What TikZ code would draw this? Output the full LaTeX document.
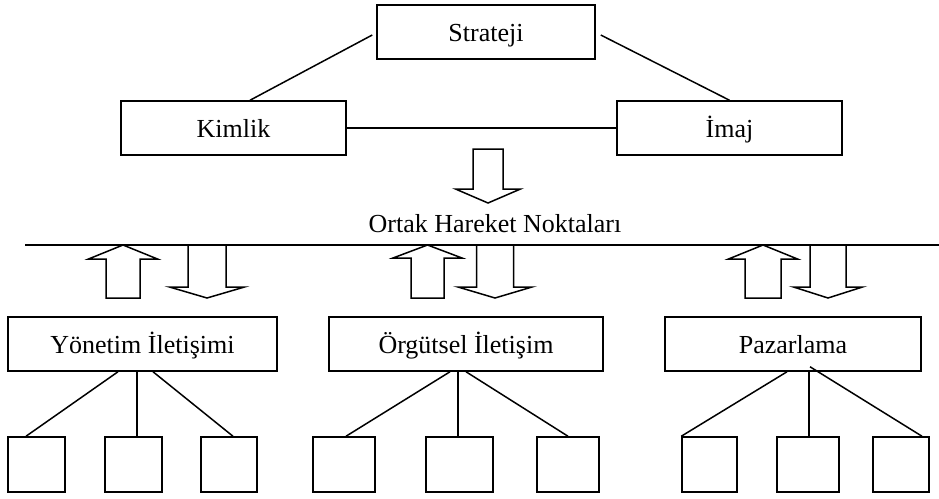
\documentclass[tikz,border=0pt]{standalone}
\usepackage{fontspec}
\setmainfont{Liberation Serif}
\begin{document}
\begin{tikzpicture}[x=1pt,y=-1pt,line width=1.5pt,
  box/.style={draw,rectangle,inner sep=0pt,minimum height=54pt,
    text height=18pt,text depth=0pt,
    font=\fontsize{26}{30}\selectfont},
  leaf/.style={draw,rectangle,inner sep=0pt,minimum height=55pt},
  link/.style={draw},
  blockarrow/.style={draw,line join=miter}]
\useasboundingbox (0,0) rectangle (939,498);

% upper triangle
\node[box,minimum width=218pt] (str) at (486,32) {Strateji};
\node[box,minimum width=225pt] (kim) at (233.5,128) {Kimlik};
\node[box,minimum width=225pt] (ima) at (729.5,128) {İmaj};
\draw[link] ([xshift=-4pt,yshift=-3pt]str.west) -- ([xshift=16.5pt]kim.north);
\draw[link] ([xshift=5pt,yshift=-3pt]str.east) -- (ima.north);
\draw[link] (kim.east) -- (ima.west);

% block arrows: centre x, y values, half shaft, half head
\newcommand\downblock[6]{%
  \draw[blockarrow] ({#1-#5},#2) -- ({#1+#5},#2) -- ({#1+#5},#3) -- ({#1+#6},#3)
    -- (#1,#4) -- ({#1-#6},#3) -- ({#1-#5},#3) -- cycle;}
\newcommand\upblock[6]{%
  \draw[blockarrow] ({#1-#5},#4) -- ({#1+#5},#4) -- ({#1+#5},#3) -- ({#1+#6},#3)
    -- (#1,#2) -- ({#1-#6},#3) -- ({#1-#5},#3) -- cycle;}

\downblock{488}{149}{189}{203}{15}{32.5}

% common action points
\node[anchor=base,inner sep=0pt,font=\fontsize{26}{30}\selectfont] (ortak) at (495,232) {Ortak Hareket Noktaları};
\coordinate (hl) at (25,245);
\coordinate (hr) at (939,245);
\draw (hl) -- (hr);

\upblock{123}{245}{259}{298}{17}{34.5}
\downblock{207}{245}{287}{298}{19}{37.5}
\upblock{427.5}{245}{258}{298}{16.5}{34.5}
\downblock{495}{245}{287}{298}{18.5}{37}
\upblock{763}{245}{259}{298}{18}{34.5}
\downblock{828}{245}{287}{298}{18}{34.5}

% communication areas
\node[box,minimum width=269pt] (yon) at (142.5,344) {Yönetim İletişimi};
\node[box,minimum width=274pt] (org) at (466,344) {Örgütsel İletişim};
\node[box,minimum width=256pt] (paz) at (793,344) {Pazarlama};

% leaves
\node[leaf,minimum width=57pt] (a1) at (36.5,464.5) {};
\node[leaf,minimum width=57pt] (a2) at (133.5,464.5) {};
\node[leaf,minimum width=56pt] (a3) at (229,464.5) {};
\node[leaf,minimum width=62pt] (b1) at (344,464.5) {};
\node[leaf,minimum width=67pt] (b2) at (459.5,464.5) {};
\node[leaf,minimum width=62pt] (b3) at (568,464.5) {};
\node[leaf,minimum width=55pt] (c1) at (709.5,464.5) {};
\node[leaf,minimum width=62pt] (c2) at (808,464.5) {};
\node[leaf,minimum width=56pt] (c3) at (901,464.5) {};

\draw[link] ([xshift=-24.5pt]yon.south) -- ([xshift=-10.5pt]a1.north);
\draw[link] ([xshift=-5.5pt]yon.south) -- ([xshift=3.5pt]a2.north);
\draw[link] ([xshift=10.5pt]yon.south) -- ([xshift=4pt]a3.north);

\draw[link] ([xshift=-16pt]org.south) -- ([xshift=2pt]b1.north);
\draw[link] ([xshift=-8pt]org.south) -- ([xshift=-1.5pt]b2.north);
\draw[link] (org.south) -- (b3.north);

\draw[link] ([xshift=-6pt]paz.south) -- (c1.north west);
\draw[link] ([xshift=16pt]paz.south) -- ([xshift=1pt]c2.north);
\draw[link] ([xshift=17pt,yshift=5pt]paz.south) -- ([xshift=21pt]c3.north);
\end{tikzpicture}
\end{document}
